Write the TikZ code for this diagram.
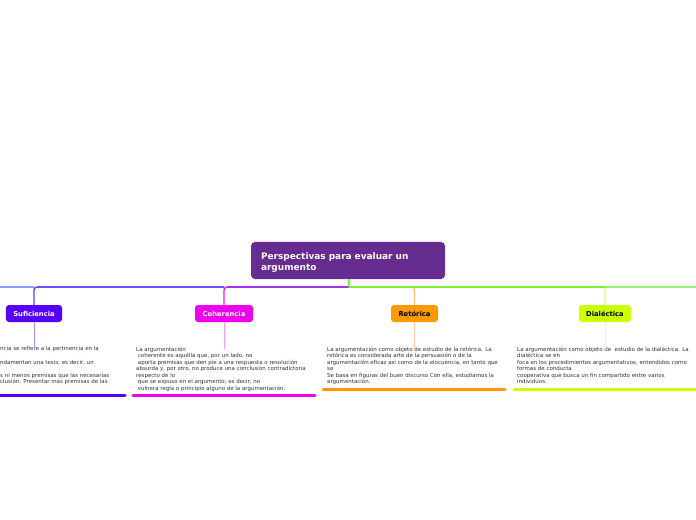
\documentclass[tikz,border=0pt]{standalone}
\usepackage{fontspec}
\setmainfont{DejaVu Sans}
\definecolor{rootc}{HTML}{662C90}
\definecolor{sufc}{HTML}{5500FF}
\definecolor{cohc}{HTML}{EE00EE}
\definecolor{retc}{HTML}{FF9900}
\definecolor{diac}{HTML}{CCFF00}
\definecolor{busL}{HTML}{80A0FF}
\definecolor{busSuf}{HTML}{6655F0}
\definecolor{busCoh}{HTML}{A033F0}
\definecolor{busG}{HTML}{80EE33}
\definecolor{busR}{HTML}{99F07A}
\definecolor{sufv}{HTML}{6040F0}
\definecolor{cohv}{HTML}{DD22EE}
\definecolor{retv}{HTML}{FFC080}
\definecolor{diav}{HTML}{E0F880}
\definecolor{sufl}{HTML}{B38CFF}
\definecolor{cohl}{HTML}{FF99FF}
\definecolor{retl}{HTML}{FFCC99}
\definecolor{dial}{HTML}{EEFF99}
\definecolor{txtc}{HTML}{333333}
\begin{document}
\begin{tikzpicture}[x=1bp,y=-1bp,
  rootbox/.style={fill=rootc, rounded corners=4bp, text=white, font=\fontsize{9}{11}\selectfont\bfseries,
    minimum width=194bp, minimum height=37bp, text width=174bp, align=left, inner xsep=10bp, inner ysep=0bp},
  childbox/.style={rounded corners=3bp, font=\fontsize{6.8}{8}\selectfont\bfseries,
    minimum height=17bp, inner sep=0bp},
  conn/.style={line width=1.4bp},
  stub/.style={line width=1bp},
  txt/.style={anchor=north west, inner sep=0bp, align=left, text=txtc,
    font=\fontsize{5.5}{6.6}\selectfont},
  uline/.style={line width=3bp, line cap=round}]
\useasboundingbox (0,0) rectangle (696,520);
\fill[white] (0,0) rectangle (696,520);

\node[rootbox] (root) at (348,260.5) {\rule{0pt}{10bp}Perspectivas para evaluar un\\argumento};
\node[childbox, fill=sufc, text=white, minimum width=56bp] (suf) at (34,313.5) {Suficiencia};
\node[childbox, fill=cohc, text=white, minimum width=58bp] (coh) at (224,313.5) {Coherencia};
\node[childbox, fill=retc, text=black, minimum width=47bp] (ret) at (414.5,313.5) {Retórica};
\node[childbox, fill=diac, text=black, minimum width=52bp] (dia) at (605,313.5) {Dialéctica};

\coordinate (bus) at (349,287);
\coordinate (leftend) at (0,287);
\coordinate (rightend) at (696,287);

% bus connectors
\draw[conn, busL] (leftend) -- (suf.north |- bus);
\draw[conn, sufv, rounded corners=3bp] (suf.north) -- (suf.north |- bus) -- (coh.north |- bus);
\draw[conn, busSuf] ([xshift=3bp]suf.north |- bus) -- (coh.north |- bus);
\draw[conn, cohv, rounded corners=3bp] (coh.north) -- (coh.north |- bus) -- (bus);
\draw[conn, busCoh] ([xshift=3bp]coh.north |- bus) -- (bus);
\draw[conn, retv, rounded corners=3bp] (ret.north) -- (ret.north |- bus) -- (bus);
\draw[conn, diav, rounded corners=3bp] (dia.north) -- (dia.north |- bus) -- (ret.north |- bus);
\draw[conn, busG] (bus) -- (dia.north |- bus);
\draw[conn, busR] (dia.north |- bus) -- (rightend);
\draw[conn, busG] (root.south -| bus) -- (bus);

% text blocks
\node[txt] (suftxt) at (0,346.5) {ncia se refiere a la pertinencia en la\\ \mbox{}\\ndamentan una tesis; es decir, un\\ \mbox{}\\s ni menos premisas que las necesarias\\clusión. Presentar más premisas de las};
\node[txt] (cohtxt) at (136,346.5) {La argumentación\\ \ coherente es aquélla que, por un lado, no\\ \ aporta premisas que den pie a una respuesta o resolución\\absurda y, por otro, no produce una conclusión contradictoria\\respecto de lo\\ \ que se expuso en el argumento; es decir, no\\ \ vulnera regla o principio alguno de la argumentación.};
\node[txt] (rettxt) at (327,346.5) {La argumentación como objeto de estudio de la retórica. La\\retórica es considerada arte de la persuasión o de la\\argumentación eficaz así como de la elocuencia, en tanto que\\se\\Se basa en figuras del buen discurso Con ella, estudiamos la\\argumentación.};
\node[txt] (diatxt) at (517,346.5) {La argumentación como objeto de \ estudio de la dialéctica. La\\dialéctica se en\\foca en los procedimientos argumentativos, entendidos como\\formas de conducta\\cooperativa que busca un fin compartido entre varios\\individuos.};

% stubs from child to text
\draw[stub, sufl] (suf.south) -- ([yshift=-2.5bp]suf.south |- suftxt.north);
\draw[stub, cohl] (coh.south) -- ([yshift=-2.5bp]coh.south |- cohtxt.north);
\draw[stub, retl] (ret.south) -- ([yshift=-2.5bp]ret.south |- rettxt.north);
\draw[stub, dial] (dia.south) -- ([yshift=-2.5bp]dia.south |- diatxt.north);

% underlines
\draw[uline, sufc] (-2,395) -- (125,395);
\draw[uline, cohc] (133,395) -- (315,395);
\draw[uline, retc] (323,389) -- (505,389);
\draw[uline, diac] (514,389) -- (698,389);
\end{tikzpicture}
\end{document}
